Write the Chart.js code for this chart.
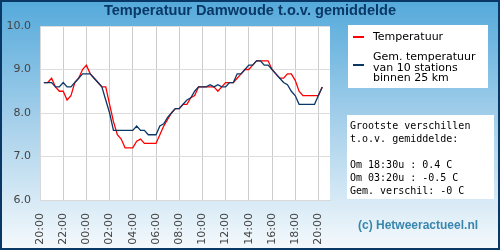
<!DOCTYPE html>
<html>
<head>
<meta charset="utf-8">
<script src="https://cdn.jsdelivr.net/npm/chart.js@4.4.0/dist/chart.umd.min.js"></script>
<style>
  html, body { margin: 0; padding: 0; }
  #wrap {
    position: relative; width: 500px; height: 250px; box-sizing: border-box;
    border: 2px solid #0a3866;
    background: linear-gradient(to bottom, #55aadb 0%, #a8d1eb 50%, #f4f9fc 100%);
    overflow: hidden;
  }
  #chart { position: absolute; left: -2px; top: -2px; }
  .box { position: absolute; background: #fff; }
  #legend { left: 346px; top: 23px; width: 140px; height: 63px; font: 11px "DejaVu Sans", sans-serif; color: #000; }
  .item { position: absolute; left: 25px; line-height: 10.5px; white-space: nowrap; }
  .swatch { position: absolute; left: 5px; width: 11px; height: 2px; }
  #info { left: 345px; top: 113px; width: 147px; height: 84px; font: 10px "DejaVu Sans Mono", monospace; color: #000; }
  #info pre { margin: 0; padding: 4px 0 0 3px; font: inherit; line-height: 13px; }
  #copy { position: absolute; left: 356px; top: 216px; font: bold 12px "Liberation Sans", Arial, sans-serif; color: #3a86ad; white-space: nowrap; }
</style>
</head>
<body>
<div id="wrap">
  <canvas id="chart" width="500" height="250"></canvas>
  <div class="box" id="legend">
    <div class="swatch" style="top:11px;background:#ff0000"></div>
    <div class="item" style="top:7px">Temperatuur</div>
    <div class="swatch" style="top:39px;background:#0a3866"></div>
    <div class="item" style="top:27px">Gem. temperatuur<br>van 10 stations<br>binnen 25 km</div>
  </div>
  <div class="box" id="info"><pre>Grootste verschillen
t.o.v. gemiddelde:

Om 18:30u : 0.4 C
Om 03:20u : -0.5 C
Gem. verschil: -0 C</pre></div>
  <div id="copy">(c) Hetweeractueel.nl</div>
</div>
<script>
// measurements every 20 minutes, first one at 20:20
const startHour = 20 + 20 / 60;
const stepMinutes = 20;

const temperatuur = [
  8.7, 8.7, 8.8, 8.6, 8.5, 8.5, 8.3, 8.4, 8.7, 8.8, 9.0, 9.1, 8.9, 8.8, 8.7, 8.6,
  8.6, 8.2, 7.8, 7.5, 7.4, 7.2, 7.2, 7.2, 7.35, 7.4, 7.3, 7.3, 7.3, 7.3, 7.5, 7.7,
  7.85, 8.0, 8.1, 8.1, 8.2, 8.2, 8.35, 8.4, 8.6, 8.6, 8.6, 8.6, 8.6, 8.5, 8.6, 8.7,
  8.7, 8.7, 8.8, 8.9, 9.0, 9.0, 9.1, 9.2, 9.2, 9.2, 9.2, 9.0, 8.9, 8.8, 8.8, 8.9,
  8.9, 8.75, 8.5, 8.4, 8.4, 8.4, 8.4, 8.4, 8.6
];

const gemiddelde = [
  8.7, 8.7, 8.7, 8.6, 8.6, 8.7, 8.6, 8.6, 8.7, 8.8, 8.9, 8.9, 8.9, 8.8, 8.7, 8.6,
  8.3, 8.0, 7.6, 7.6, 7.6, 7.6, 7.6, 7.6, 7.7, 7.6, 7.6, 7.5, 7.5, 7.5, 7.7, 7.75,
  7.9, 8.0, 8.1, 8.1, 8.2, 8.3, 8.35, 8.5, 8.6, 8.6, 8.6, 8.65, 8.6, 8.65, 8.6, 8.6,
  8.7, 8.7, 8.9, 8.9, 9.0, 9.1, 9.1, 9.2, 9.2, 9.1, 9.1, 9.0, 8.9, 8.8, 8.7, 8.65,
  8.5, 8.4, 8.2, 8.2, 8.2, 8.2, 8.2, 8.4, 8.6
];

const yTicks = [6, 7, 8, 9, 10];
const xStartLabelHour = 20;

function toPoints(values) {
  return values.map((v, i) => ({ x: startHour - xStartLabelHour + i * stepMinutes / 60, y: v }));
}

function hourLabel(v) {
  const h = (xStartLabelHour + v) % 24;
  return (h < 10 ? '0' : '') + h + ':00';
}

const ctx = document.getElementById('chart').getContext('2d');
new Chart(ctx, {
  type: 'line',
  data: {
    datasets: [
      {
        label: 'Gem. temperatuur van 10 stations binnen 25 km',
        data: toPoints(gemiddelde),
        borderColor: '#0a3866',
        borderWidth: 1.3,
        pointRadius: 0,
        tension: 0
      },
      {
        label: 'Temperatuur',
        data: toPoints(temperatuur),
        borderColor: '#ff0000',
        borderWidth: 1.3,
        pointRadius: 0,
        tension: 0
      }
    ]
  },
  options: {
    responsive: false,
    animation: false,
    layout: { padding: { top: 26, right: 170, left: 0, bottom: 0 } },
    plugins: {
      legend: { display: false },
      tooltip: { enabled: false },
      title: { display: false }
    },
    scales: {
      x: {
        type: 'linear',
        min: 0,
        max: 25,
        afterFit: s => { s.height = 50; },
        grid: { color: '#cccccc', drawTicks: false },
        border: { color: '#d8d8d8' },
        ticks: {
          stepSize: 2,
          includeBounds: false,
          minRotation: 90,
          maxRotation: 90,
          padding: 13,
          color: '#444',
          font: { family: 'DejaVu Sans', size: 11 },
          callback: v => hourLabel(v)
        }
      },
      y: {
        min: 6,
        max: 10,
        afterFit: s => { s.width = 40; },
        afterBuildTicks: s => { s.ticks = yTicks.map(v => ({ value: v })); },
        grid: { color: '#dddddd', drawTicks: false },
        border: { color: '#d8d8d8' },
        ticks: {
          padding: 9,
          color: '#444',
          font: { family: 'DejaVu Sans', size: 11 },
          callback: v => v.toFixed(1)
        }
      }
    }
  },
  plugins: [{
    id: 'plotBackground',
    beforeDraw(chart) {
      const a = chart.chartArea;
      chart.ctx.save();
      chart.ctx.fillStyle = '#ffffff';
      chart.ctx.fillRect(a.left, a.top, a.right - a.left, a.bottom - a.top);
      chart.ctx.restore();
    }
  }, {
    id: 'chartTitle',
    afterDraw(chart) {
      const c = chart.ctx;
      c.save();
      c.font = 'bold 14.6px "Liberation Sans", Arial, sans-serif';
      c.fillStyle = '#0a3866';
      c.textAlign = 'center';
      c.textBaseline = 'middle';
      c.fillText('Temperatuur Damwoude t.o.v. gemiddelde', 250, 11);
      c.restore();
    }
  }]
});
</script>
</body>
</html>
